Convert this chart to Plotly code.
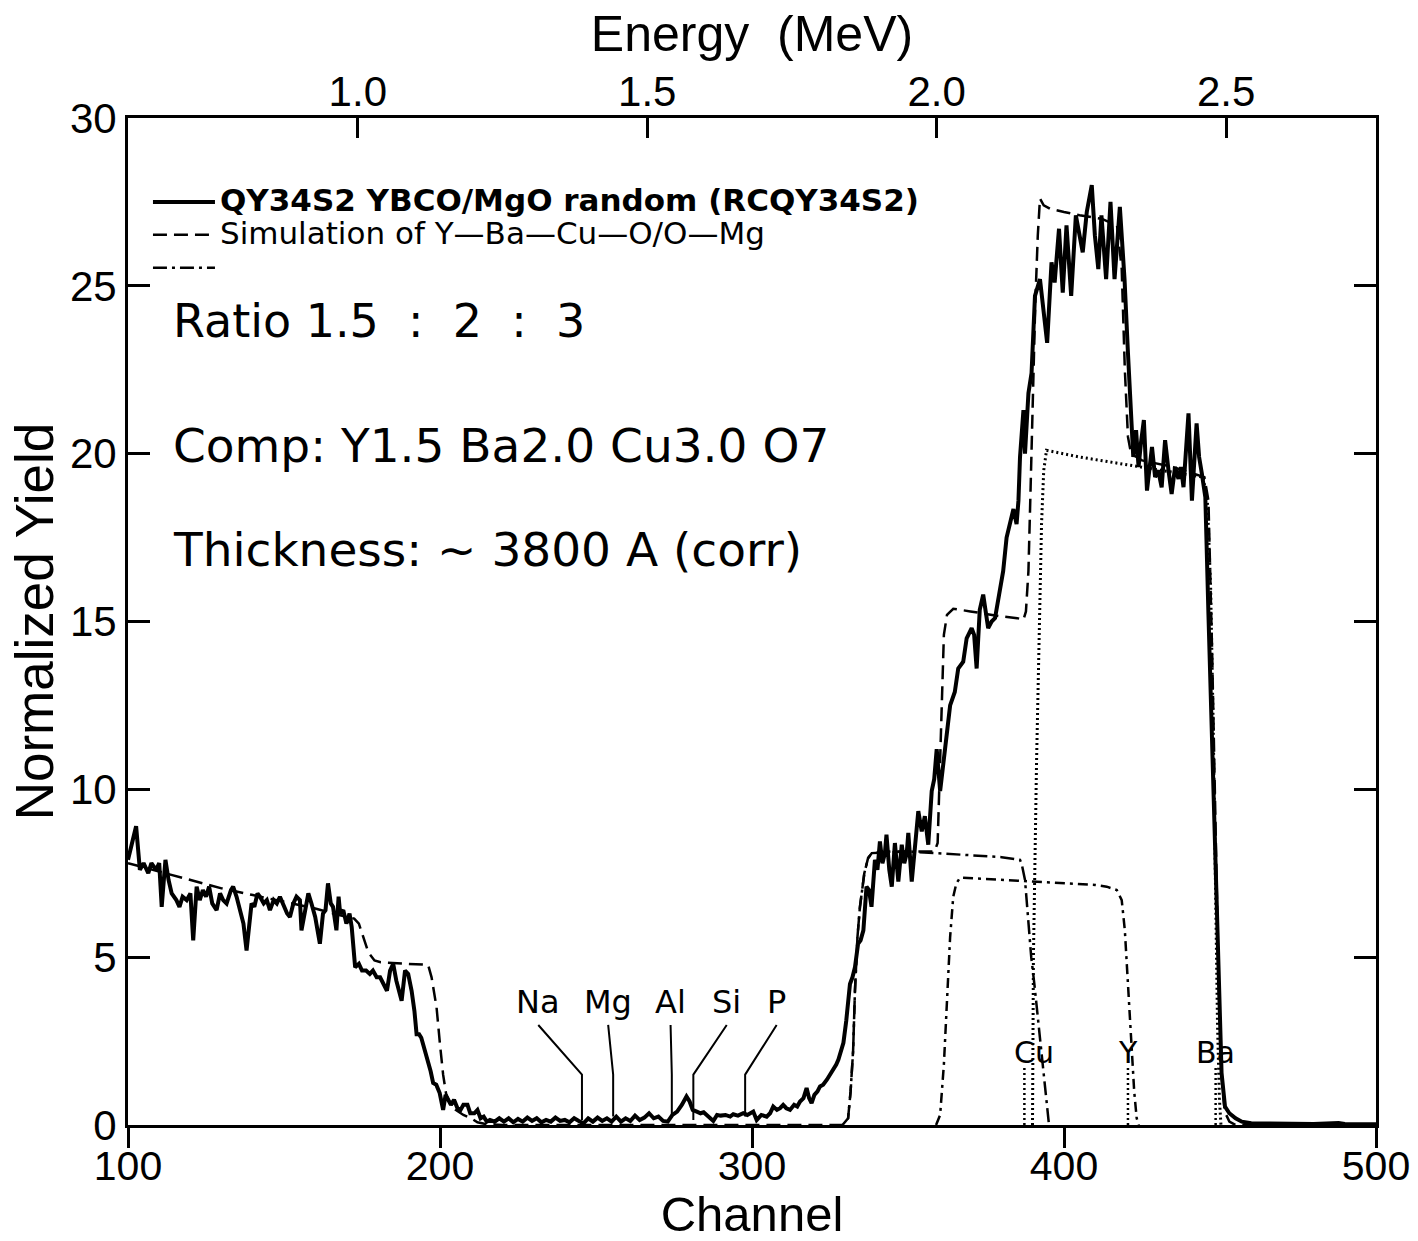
import plotly.graph_objects as go

# ---------------- data ----------------
ch_exp = [100, 101, 102.6, 103.8, 105, 106.5, 107.5, 109, 110, 110.8, 112, 113, 114, 115.5, 116.5, 117.5,
          118.8, 120, 120.9, 122, 123, 124, 125, 126, 127, 128.4, 129.5, 130.5, 131.6, 133, 133.7, 134.8,
          135.8, 137, 138, 139, 139.6, 140.5, 141.5, 142.3, 143.5, 144.5, 145.5, 146.7, 147.7, 148.7, 150,
          151, 151.9, 153, 154, 155.1, 155.6, 156.7, 157.8, 158.8, 160, 161.5, 162.5, 163.3, 164.1, 165,
          165.7, 166.8, 167.5, 168, 169, 170, 171, 171.7, 172.8, 174, 175, 176.3, 177.5, 178.5, 179.7,
          180.8, 182, 183, 184, 185, 186, 187, 187.7, 188.8, 189.8, 190.9, 191.8, 192.5, 193.3, 194, 195,
          196, 197, 197.8, 198.8, 199.9, 201, 201.8, 202.6, 203.5, 204.5, 205.6, 206.6, 207.5, 208.8,
          209.7, 211, 212, 213, 214, 215,
          216, 217.5, 219, 220.5, 222, 223.5, 225, 226.5, 228, 229.5, 231, 232.5, 234, 235.5, 237, 238.5,
          240, 241.5, 243, 244.5, 246, 247.5, 249, 250.5, 252, 253.5, 255, 256.5, 258, 259.5, 261, 262.5,
          264, 265.5, 267, 268.5, 270, 271.5, 273, 274.5, 276, 277.5, 279, 280, 281, 282.3, 283.5, 284.5,
          285.5, 286.5, 287.6, 288.8, 290, 291.5, 293, 294, 295.5, 297.2, 298.5, 300.4, 301.5, 303, 304.7,
          305.8, 306.8, 308, 309, 310, 311, 312.2, 313.5, 314.5, 315.4, 316.5, 317.5, 318.3, 319.1, 320,
          321, 321.8, 322.8, 324, 325, 326, 327, 327.7, 328.5, 329.3, 330.2, 331.4, 332.2, 333, 334,
          334.8, 335.7, 336.7, 337.5, 338.3, 339.4, 340.2, 341, 341.8, 342.6, 343.1, 344, 344.8, 345.8,
          346.9, 348, 348.8, 349.6, 350.1, 351.2, 352.2, 353.3, 354.4, 355.4, 356.5, 357.6, 358.4, 359.2,
          360.3, 361.3, 362.4, 363.5, 365, 366.1, 367.7, 368.8, 370.4, 371.2, 372, 373, 374.1, 375.7,
          376.8, 377.9, 379.2, 380.5, 381.6, 382.7, 383.8, 384.8, 385.4, 385.9, 387, 387.5, 388.6, 389.6,
          390.7, 392.3, 393.2, 394.6, 396, 397, 398.4, 399.6, 400.8, 402.3, 403.8, 404.9, 406, 407.3,
          408.9, 409.9, 411, 412, 413.5, 414.9, 416.2, 417.9, 419.4, 420.5, 421.5, 422.2, 423.1, 423.9,
          424.7, 425.6, 426.6, 427.4, 428.2, 429.2, 430.2, 431.3, 432.4, 433.5, 434.5, 435.6, 436.7,
          437.5, 438.3, 439.9, 441, 442.5, 443.3, 444.2, 445.3, 446.3, 447.9, 449.5, 450.5, 451.6, 453,
          455, 457, 460, 470, 480, 488, 490, 500]
y_exp = [7.9, 8.3, 8.9, 7.6, 7.8, 7.5, 7.8, 7.6, 7.8, 6.5, 7.9, 7.3, 6.9, 6.7, 6.5, 6.8,
         6.7, 6.9, 5.5, 7.1, 6.7, 7.0, 6.8, 7.1, 6.6, 6.4, 6.9, 6.7, 6.6, 7.0, 7.1, 6.8,
         6.4, 6.0, 5.2, 6.0, 6.6, 6.5, 6.9, 6.8, 6.6, 6.7, 6.4, 6.7, 6.6, 6.8, 6.5,
         6.3, 6.2, 6.6, 6.8, 6.7, 5.8, 6.4, 6.9, 6.6, 6.2, 5.4, 6.3, 6.4, 7.2, 6.6,
         6.5, 5.8, 6.8, 6.3, 6.4, 6.0, 6.3, 5.9, 4.7, 4.8, 4.6, 4.6, 4.5, 4.6, 4.4,
         4.4, 4.2, 4.0, 4.6, 4.8, 4.3, 4.0, 3.7, 4.6, 4.5, 4.0, 3.4, 2.7, 2.7, 2.6, 2.3,
         2.0, 1.6, 1.25, 1.2, 0.95, 0.45, 0.9, 0.75, 0.6, 0.75, 0.5, 0.45, 0.6, 0.6,
         0.35, 0.35, 0.45, 0.2, 0.25, 0.1,
         0.15, 0.1, 0.2, 0.1, 0.2, 0.08, 0.18, 0.1, 0.22, 0.12, 0.2, 0.08, 0.15, 0.1, 0.22, 0.12,
         0.15, 0.08, 0.2, 0.12, 0.05, 0.2, 0.1, 0.22, 0.12, 0.2, 0.1, 0.25, 0.1, 0.2, 0.12, 0.28,
         0.15, 0.22, 0.35, 0.2, 0.25, 0.12, 0.1, 0.3, 0.4, 0.6, 0.85, 0.7, 0.45, 0.4, 0.35, 0.38,
         0.3, 0.2, 0.12, 0.3, 0.28, 0.3, 0.25, 0.32, 0.28, 0.35, 0.3, 0.4, 0.15, 0.3, 0.25,
         0.35, 0.55, 0.45, 0.5, 0.6, 0.5, 0.45, 0.6, 0.55, 0.7, 0.8, 1.1, 0.8, 0.65, 0.9,
         1.0, 1.15, 1.2, 1.35, 1.5, 1.6, 1.8, 1.95, 2.25, 2.45, 3.1, 4.2, 4.4, 4.7, 5.4,
         5.5, 5.8, 7.1, 7.0, 6.5, 7.9, 7.6, 8.45, 7.8, 8.1, 8.65, 7.6, 7.1, 8.4,
         7.25, 8.35, 7.8, 8.1, 8.7, 7.25, 8.3, 9.35, 8.75, 9.2, 8.35, 9.95, 10.3, 11.2,
         9.95, 10.8, 11.65, 12.5, 12.9, 13.6, 13.8, 14.5, 14.8, 14.6, 13.6, 15.35, 15.8, 14.8,
         15.0, 15.1, 15.8, 16.5, 17.5, 17.9, 18.35, 17.9, 18.6, 19.9, 21.3, 20.0, 21.8, 22.4,
         24.7, 25.2, 24.5, 23.3, 25.7, 25.1, 26.7, 24.8, 26.8, 24.7, 27.1, 26.6, 26.0, 27.2,
         28.0, 26.5, 25.5, 27.1, 25.2, 27.5, 25.2, 27.35, 25.2, 23.0, 20.8, 19.9, 20.7, 19.6,
         20.35, 21.0, 18.9, 19.7, 20.2, 19.3, 19.5, 19.0, 20.4, 19.5, 18.8, 19.6, 19.25,
         19.6, 19.0, 21.2, 18.6, 20.9, 19.9, 19.4, 18.7, 15.2, 10.0, 4.8, 1.55, 0.55, 0.35,
         0.2, 0.1, 0.05, 0.03, 0.03, 0.06, 0.03, 0.02]

ch_sim = [100, 112, 120, 130, 140, 150, 160, 168, 172.5, 174, 175.5, 177, 179, 181, 190, 196.2, 197.3,
          198.9, 200, 201, 202, 203.5, 205, 207.5, 210, 212, 215, 220, 329, 330.8, 331.6, 332.4, 333,
          333.8, 334.6, 336, 337.2, 338.4, 345, 358.5, 359.5, 360.2, 360.8, 361.5, 362.5, 364.5, 370,
          380, 385, 387, 387.8, 388.6, 389.3, 389.9, 390.8, 391.6, 392.3, 393.5, 395.5, 400, 405, 412,
          417, 418.5, 419.5, 420.5, 421.5, 425, 435, 445, 446.3, 447.5, 448.5, 449.5, 450.5, 451.5,
          453, 455, 500]
y_sim = [7.8, 7.5, 7.3, 7.05, 6.85, 6.65, 6.45, 6.25, 6.15, 6.0, 5.6, 5.15, 4.9, 4.85, 4.8, 4.77, 4.4,
         3.5, 2.4, 1.5, 0.9, 0.6, 0.45, 0.3, 0.2, 0.08, 0.02, 0, 0, 0.2, 1.0, 2.2, 4.0,
         5.6, 6.5, 7.5, 7.95, 8.1, 8.15, 8.15, 8.4, 10.5, 13.0, 14.6, 15.2, 15.38, 15.3,
         15.15, 15.1, 15.05, 15.3, 16.5, 19.0, 21.5, 24.5, 26.5, 27.6, 27.4, 27.3, 27.2, 27.1, 27.0,
         26.8, 25.5, 22.5, 20.5, 20.0, 19.8, 19.6, 19.3, 18.6, 14.0, 9.0, 4.5, 1.5, 0.4,
         0.1, 0, 0]

ch_cu = [329, 330.8, 331.6, 332.4, 333, 333.8, 334.6, 336, 337.2, 338.4, 350, 360, 370, 380, 385.9,
         386.5, 387.5, 388.5, 389.5, 390.5, 391.5, 392.5, 393.5, 394.5, 395.2]
y_cu = [0, 0.2, 1.0, 2.2, 4.0, 5.6, 6.5, 7.5, 7.95, 8.1, 8.15, 8.1, 8.05, 7.98, 7.9,
        7.75, 7.3, 6.2, 5.0, 4.2, 3.3, 2.4, 1.4, 0.5, 0]

ch_yt = [359, 360.3, 361.5, 362.4, 363.5, 364.5, 365.5, 366.7, 375, 385, 391, 400, 410, 413.7, 416.9,
         418.5, 419.5, 420.5, 421.5, 422.5, 423.3, 424]
y_yt = [0, 0.3, 1.8, 3.7, 5.6, 6.8, 7.2, 7.37, 7.33, 7.28, 7.25, 7.2, 7.15, 7.1, 7.0,
        6.7, 5.8, 4.2, 2.5, 1.0, 0.2, 0]

ch_ba = [389.9, 390.2, 391.2, 392.2, 392.8, 393.5, 394.4, 405, 415, 424.4, 435, 444.6, 446, 447,
         447.8, 448.5, 449.2, 449.8, 450.3]
y_ba = [0, 5.0, 10.8, 16.0, 17.9, 19.5, 20.1, 19.9, 19.75, 19.6, 19.45, 19.3, 18.5, 16.0,
        12.0, 7.0, 3.0, 0.8, 0]

light_names = ["Na", "Mg", "Al", "Si", "P"]
light_label_ch = [231.5, 253.9, 273.9, 291.9, 307.9]
light_edge_ch = [245.5, 255.5, 274.3, 281.2, 297.8]
light_bottom = [0.15, 0.25, 0.25, 0.15, 0.25]

heavy_names = ["Cu", "Y", "Ba"]
heavy_label_ch = [390.3, 420.6, 448.4]
heavy_edge_ch = [387.3, 420.5, 448.6]

energy_ticks = [1.0, 1.5, 2.0, 2.5]
kev_per_ch = 5.39
kev_offset = 64.0

annot_lines = ["Ratio 1.5\u00a0 :\u00a0 2\u00a0 :\u00a0 3", "Comp: Y1.5 Ba2.0 Cu3.0 O7",
               "Thickness: ~ 3800 A (corr)"]
annot_y = [23.95, 20.25, 17.15]

legend_names = ["<b>QY34S2 YBCO/MgO random (RCQY34S2)</b>", "Simulation of Y—Ba—Cu—O/O—Mg", " "]

# ---------------- figure ----------------
FONT = "Liberation Sans, Arial, sans-serif"
TFONT = "DejaVu Sans, Verdana, sans-serif"
LEG_TXT = 31
fig = go.Figure()

fig.add_trace(go.Scatter(x=ch_yt, y=y_yt, mode="lines", showlegend=False,
                         line=dict(color="black", width=2.5, dash="10px,5px,3px,5px"), hoverinfo="skip"))
fig.add_trace(go.Scatter(x=ch_ba, y=y_ba, mode="lines", showlegend=False,
                         line=dict(color="black", width=3, dash="2px,3px"), hoverinfo="skip"))
for c in heavy_edge_ch:
    fig.add_trace(go.Scatter(x=[c, c], y=[0, 1.7], mode="lines", showlegend=False,
                             line=dict(color="black", width=2.5, dash="2px,3px"), hoverinfo="skip"))
for i, n in enumerate(light_names):
    fig.add_trace(go.Scatter(x=[light_label_ch[i], light_edge_ch[i], light_edge_ch[i]],
                             y=[2.98, 1.5, light_bottom[i]], mode="lines", showlegend=False,
                             line=dict(color="black", width=2), hoverinfo="skip"))


def big(t):
    return "<span style='font-size:%dpx'>%s</span>" % (LEG_TXT, t)


fig.add_trace(go.Scatter(x=ch_exp, y=y_exp, mode="lines", name=big(legend_names[0]),
                         line=dict(color="black", width=4)))
fig.add_trace(go.Scatter(x=ch_sim, y=y_sim, mode="lines", name=big(legend_names[1]),
                         line=dict(color="black", width=2.5, dash="14px,7px")))
fig.add_trace(go.Scatter(x=ch_cu, y=y_cu, mode="lines", name=legend_names[2],
                         line=dict(color="black", width=2.5, dash="14px,5px,3px,5px")))

# invisible trace carrying the top energy axis
e_lo = (100 * kev_per_ch + kev_offset) / 1000.0
e_hi = (500 * kev_per_ch + kev_offset) / 1000.0
fig.add_trace(go.Scatter(x=[e_lo, e_hi], y=[0, 0], xaxis="x2", mode="lines", showlegend=False,
                         line=dict(width=0), hoverinfo="skip", opacity=0))

annotations = []
for i, (t, yv) in enumerate(zip(annot_lines, annot_y)):
    fs = 46 if i == 0 else 47
    annotations.append(dict(x=113.8, y=yv, xref="x", yref="y", text=t, showarrow=False,
                            xanchor="left", yanchor="middle", font=dict(size=fs, family=TFONT, color="black")))
for n, c in zip(light_names, light_label_ch):
    annotations.append(dict(x=c, y=3.67, xref="x", yref="y", text=n, showarrow=False,
                            xanchor="center", yanchor="middle", font=dict(size=32, family=TFONT, color="black")))
for n, c in zip(heavy_names, heavy_label_ch):
    annotations.append(dict(x=c, y=2.17, xref="x", yref="y", text=n, showarrow=False,
                            xanchor="center", yanchor="middle", font=dict(size=30, family=TFONT, color="black")))

fig.update_layout(
    width=1418, height=1241,
    margin=dict(l=128, r=42, t=118, b=116),
    paper_bgcolor="white", plot_bgcolor="white",
    font=dict(family=FONT, color="black"),
    showlegend=True,
    legend=dict(x=0.016, y=0.938, xanchor="left", yanchor="top", bgcolor="rgba(0,0,0,0)",
                font=dict(size=23, family=TFONT, color="black"), itemwidth=62, tracegroupgap=0),
    annotations=annotations,
    xaxis=dict(range=[100, 500], tickvals=[100, 200, 300, 400, 500], ticks="outside", ticklen=20,
               tickwidth=3, tickcolor="black", showline=True, linewidth=3, linecolor="black", mirror=True,
               showgrid=False, zeroline=False, tickfont=dict(size=41, family=FONT), automargin=False,
               ticklabelstandoff=-17,
               title=dict(text="Channel", font=dict(size=49, family=FONT), standoff=8)),
    xaxis2=dict(overlaying="x", side="top", range=[e_lo, e_hi], tickvals=energy_ticks,
                ticktext=["%.1f" % v for v in energy_ticks], ticks="inside", ticklen=20, tickwidth=3,
                tickcolor="black", showline=False, showgrid=False, zeroline=False, automargin=False,
                tickfont=dict(size=42, family=FONT), ticklabelstandoff=3,
                title=dict(text="Energy  (MeV)", font=dict(size=50, family=FONT), standoff=0)),
    yaxis=dict(range=[0, 30], tickvals=[0, 5, 10, 15, 20, 25, 30], ticks="inside", ticklen=22,
               tickwidth=3, tickcolor="black", showline=True, linewidth=3, linecolor="black",
               mirror="ticks", showgrid=False, zeroline=False, tickfont=dict(size=42, family=FONT),
               automargin=False,
               title=dict(text="Normalized Yield", font=dict(size=53, family=FONT), standoff=0)),
)

fig.write_html("out.html", config={"displayModeBar": False},
               post_script="document.body.style.margin='0';document.body.style.overflow='hidden';")
